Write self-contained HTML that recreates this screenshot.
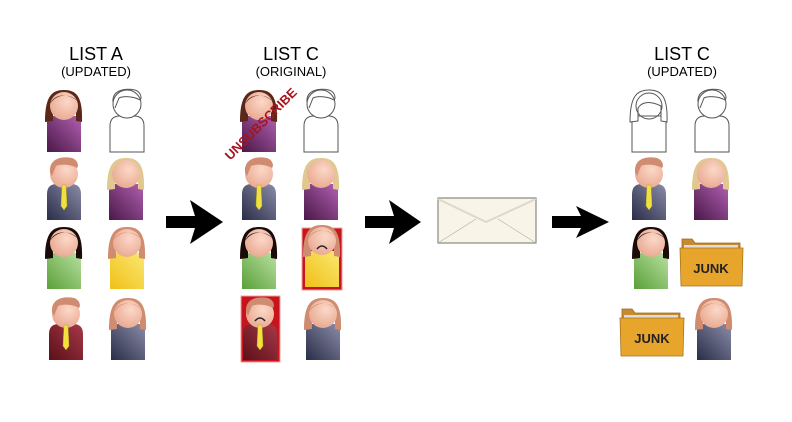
<!DOCTYPE html>
<html><head><meta charset="utf-8"><style>
html,body{margin:0;padding:0;background:#fff;}
svg{display:block;}
text{font-family:"Liberation Sans",sans-serif;}
</style></head><body>
<svg width="792" height="422" viewBox="0 0 792 422" xmlns="http://www.w3.org/2000/svg">
<defs>
<linearGradient id="gPur" x1="0" y1="1" x2="1" y2="0"><stop offset="0" stop-color="#4a1848"/><stop offset="1" stop-color="#b060b0"/></linearGradient>
<linearGradient id="gNav" x1="0" y1="1" x2="1" y2="0"><stop offset="0" stop-color="#2a2d48"/><stop offset="1" stop-color="#8a8ca8"/></linearGradient>
<linearGradient id="gGrn" x1="0" y1="1" x2="1" y2="0"><stop offset="0" stop-color="#5aa038"/><stop offset="1" stop-color="#b8e0a0"/></linearGradient>
<linearGradient id="gYel" x1="0" y1="1" x2="1" y2="0"><stop offset="0" stop-color="#f0c018"/><stop offset="1" stop-color="#fae870"/></linearGradient>
<linearGradient id="gMar" x1="0" y1="1" x2="1" y2="0"><stop offset="0" stop-color="#5a1018"/><stop offset="1" stop-color="#a83848"/></linearGradient>
<radialGradient id="gSkin" cx="0.6" cy="0.35" r="0.7"><stop offset="0" stop-color="#fcd8c8"/><stop offset="1" stop-color="#e8a890"/></radialGradient>

<symbol id="head" overflow="visible"><circle cx="0" cy="-46" r="14" fill="url(#gSkin)"/></symbol>
<symbol id="tie" overflow="visible"><path d="M-2,-35 L2,-35 L3,-14 L0,-10 L-3,-14 Z" fill="#f0e040" stroke="#b8a820" stroke-width="0.5"/></symbol>
<symbol id="mhair" overflow="visible"><path d="M-14,-48 C-15,-62 -2,-64 8,-62 C14,-60 15,-54 13,-52 C6,-56 -4,-56 -8,-54 L-12,-44 Z" fill="#d08c70"/></symbol>
</defs>

<text x="96" y="60" font-size="18" text-anchor="middle">LIST A</text>
<text x="96" y="76" font-size="13" text-anchor="middle">(UPDATED)</text>
<text x="291" y="60" font-size="18" text-anchor="middle">LIST C</text>
<text x="291" y="76" font-size="13" text-anchor="middle">(ORIGINAL)</text>
<text x="682" y="60" font-size="18" text-anchor="middle">LIST C</text>
<text x="682" y="76" font-size="13" text-anchor="middle">(UPDATED)</text>

<!-- ========== LIST A ========== -->
<g transform="translate(64,152)">
<rect x="-17" y="-36" width="34" height="36" fill="url(#gPur)"/>
<path d="M-19,-30 C-19,-56 -12,-62 0,-62 C12,-62 19,-56 18,-30 L12,-31 L12,-46 C4,-50 -6,-52 -11,-44 L-11,-31 Z" fill="#5a2818"/>
<use href="#head"/>
<path d="M-14,-48 C-10,-58 4,-60 14,-50 C8,-58 -6,-60 -14,-48Z" fill="#5a2818"/>
</g>
<g transform="translate(127,152)" fill="#fff" stroke="#555" stroke-width="1">
<path d="M-17,0 L-17,-26 Q-17,-36 -7,-36 L7,-36 Q17,-36 17,-26 L17,0 Z"/>
<circle cx="0" cy="-48" r="14"/>
<path d="M-14,-50 C-15,-62 -2,-64 8,-62 C14,-60 15,-54 13,-52 C6,-56 -4,-56 -8,-54 L-12,-44" fill="none"/>
</g>
<g transform="translate(64,220)">
<path d="M-17,0 L-17,-26 Q-17,-36 -7,-36 L7,-36 Q17,-36 17,-26 L17,0 Z" fill="url(#gNav)"/>
<use href="#head"/><use href="#mhair"/><use href="#tie"/>
</g>
<g transform="translate(126,220)">
<rect x="-17" y="-36" width="34" height="36" fill="url(#gPur)"/>
<path d="M-19,-30 C-19,-56 -12,-62 0,-62 C12,-62 19,-56 18,-30 L12,-31 L12,-46 C4,-50 -6,-52 -11,-44 L-11,-31 Z" fill="#e0c890"/>
<use href="#head"/>
<path d="M-14,-48 C-10,-58 4,-60 14,-50 C8,-58 -6,-60 -14,-48Z" fill="#e0c890"/>
</g>
<g transform="translate(64,289)">
<rect x="-17" y="-36" width="34" height="36" fill="url(#gGrn)"/>
<path d="M-19,-30 C-19,-56 -12,-62 0,-62 C12,-62 19,-56 18,-30 L12,-31 L12,-46 C4,-50 -6,-52 -11,-44 L-11,-31 Z" fill="#1a0a08"/>
<use href="#head"/>
<path d="M-14,-48 C-10,-58 4,-60 14,-50 C8,-58 -6,-60 -14,-48Z" fill="#1a0a08"/>
</g>
<g transform="translate(127,289)">
<rect x="-17" y="-36" width="34" height="36" fill="url(#gYel)"/>
<path d="M-19,-30 C-19,-56 -12,-62 0,-62 C12,-62 19,-56 18,-30 L12,-31 L12,-46 C4,-50 -6,-52 -11,-44 L-11,-31 Z" fill="#d08c70"/>
<use href="#head"/>
<path d="M-14,-48 C-10,-58 4,-60 14,-50 C8,-58 -6,-60 -14,-48Z" fill="#d08c70"/>
</g>
<g transform="translate(66,360)">
<path d="M-17,0 L-17,-26 Q-17,-36 -7,-36 L7,-36 Q17,-36 17,-26 L17,0 Z" fill="url(#gMar)"/>
<use href="#head"/><use href="#mhair"/><use href="#tie"/>
</g>
<g transform="translate(128,360)">
<rect x="-17" y="-36" width="34" height="36" fill="url(#gNav)"/>
<path d="M-19,-30 C-19,-56 -12,-62 0,-62 C12,-62 19,-56 18,-30 L12,-31 L12,-46 C4,-50 -6,-52 -11,-44 L-11,-31 Z" fill="#d08c70"/>
<use href="#head"/>
<path d="M-14,-48 C-10,-58 4,-60 14,-50 C8,-58 -6,-60 -14,-48Z" fill="#d08c70"/>
</g>

<!-- ========== LIST C ORIGINAL ========== -->
<g transform="translate(259,152)">
<rect x="-17" y="-36" width="34" height="36" fill="url(#gPur)"/>
<path d="M-19,-30 C-19,-56 -12,-62 0,-62 C12,-62 19,-56 18,-30 L12,-31 L12,-46 C4,-50 -6,-52 -11,-44 L-11,-31 Z" fill="#5a2818"/>
<use href="#head"/>
<path d="M-14,-48 C-10,-58 4,-60 14,-50 C8,-58 -6,-60 -14,-48Z" fill="#5a2818"/>
</g>
<text x="0" y="0" font-family="Liberation Serif,serif" font-weight="bold" font-size="13" fill="#a8141c" text-anchor="middle" transform="translate(264,127) rotate(-45)">UNSUBSCRIBE</text>
<g transform="translate(321,152)" fill="#fff" stroke="#555" stroke-width="1">
<path d="M-17,0 L-17,-26 Q-17,-36 -7,-36 L7,-36 Q17,-36 17,-26 L17,0 Z"/>
<circle cx="0" cy="-48" r="14"/>
<path d="M-14,-50 C-15,-62 -2,-64 8,-62 C14,-60 15,-54 13,-52 C6,-56 -4,-56 -8,-54 L-12,-44" fill="none"/>
</g>
<g transform="translate(259,220)">
<path d="M-17,0 L-17,-26 Q-17,-36 -7,-36 L7,-36 Q17,-36 17,-26 L17,0 Z" fill="url(#gNav)"/>
<use href="#head"/><use href="#mhair"/><use href="#tie"/>
</g>
<g transform="translate(321,220)">
<rect x="-17" y="-36" width="34" height="36" fill="url(#gPur)"/>
<path d="M-19,-30 C-19,-56 -12,-62 0,-62 C12,-62 19,-56 18,-30 L12,-31 L12,-46 C4,-50 -6,-52 -11,-44 L-11,-31 Z" fill="#e0c890"/>
<use href="#head"/>
<path d="M-14,-48 C-10,-58 4,-60 14,-50 C8,-58 -6,-60 -14,-48Z" fill="#e0c890"/>
</g>
<g transform="translate(259,289)">
<rect x="-17" y="-36" width="34" height="36" fill="url(#gGrn)"/>
<path d="M-19,-30 C-19,-56 -12,-62 0,-62 C12,-62 19,-56 18,-30 L12,-31 L12,-46 C4,-50 -6,-52 -11,-44 L-11,-31 Z" fill="#1a0a08"/>
<use href="#head"/>
<path d="M-14,-48 C-10,-58 4,-60 14,-50 C8,-58 -6,-60 -14,-48Z" fill="#1a0a08"/>
</g>
<rect x="302" y="228" width="40" height="62" fill="#c8141c" stroke="#f0a0a0" stroke-width="1"/>
<g transform="translate(322,287)">
<rect x="-17" y="-36" width="34" height="36" fill="url(#gYel)"/>
<path d="M-19,-30 C-19,-56 -12,-62 0,-62 C12,-62 19,-56 18,-30 L12,-31 L12,-46 C4,-50 -6,-52 -11,-44 L-11,-31 Z" fill="#d08c70"/>
<use href="#head"/>
<path d="M-14,-48 C-10,-58 4,-60 14,-50 C8,-58 -6,-60 -14,-48Z" fill="#d08c70"/>
<path d="M-5,-38 Q0,-44 5,-38" fill="none" stroke="#222" stroke-width="1.5"/>
</g>
<rect x="241" y="296" width="39" height="66" fill="#c8141c" stroke="#f0a0a0" stroke-width="1"/>
<g transform="translate(260,360)">
<path d="M-17,0 L-17,-26 Q-17,-36 -7,-36 L7,-36 Q17,-36 17,-26 L17,0 Z" fill="url(#gMar)"/>
<use href="#head"/><use href="#mhair"/><use href="#tie"/>
<path d="M-5,-39 Q0,-45 5,-39" fill="none" stroke="#222" stroke-width="1.5"/>
</g>
<g transform="translate(323,360)">
<rect x="-17" y="-36" width="34" height="36" fill="url(#gNav)"/>
<path d="M-19,-30 C-19,-56 -12,-62 0,-62 C12,-62 19,-56 18,-30 L12,-31 L12,-46 C4,-50 -6,-52 -11,-44 L-11,-31 Z" fill="#d08c70"/>
<use href="#head"/>
<path d="M-14,-48 C-10,-58 4,-60 14,-50 C8,-58 -6,-60 -14,-48Z" fill="#d08c70"/>
</g>

<!-- ========== LIST C UPDATED ========== -->
<g transform="translate(649,152)" fill="#fff" stroke="#555" stroke-width="1">
<rect x="-17" y="-36" width="34" height="36"/>
<path d="M-19,-30 C-19,-56 -12,-62 0,-62 C12,-62 19,-56 18,-30 L12,-31 L12,-46 C4,-50 -6,-52 -11,-44 L-11,-31 Z"/>
<circle cx="0" cy="-46" r="13" fill="none"/>
</g>
<g transform="translate(712,152)" fill="#fff" stroke="#555" stroke-width="1">
<path d="M-17,0 L-17,-26 Q-17,-36 -7,-36 L7,-36 Q17,-36 17,-26 L17,0 Z"/>
<circle cx="0" cy="-48" r="14"/>
<path d="M-14,-50 C-15,-62 -2,-64 8,-62 C14,-60 15,-54 13,-52 C6,-56 -4,-56 -8,-54 L-12,-44" fill="none"/>
</g>
<g transform="translate(649,220)">
<path d="M-17,0 L-17,-26 Q-17,-36 -7,-36 L7,-36 Q17,-36 17,-26 L17,0 Z" fill="url(#gNav)"/>
<use href="#head"/><use href="#mhair"/><use href="#tie"/>
</g>
<g transform="translate(711,220)">
<rect x="-17" y="-36" width="34" height="36" fill="url(#gPur)"/>
<path d="M-19,-30 C-19,-56 -12,-62 0,-62 C12,-62 19,-56 18,-30 L12,-31 L12,-46 C4,-50 -6,-52 -11,-44 L-11,-31 Z" fill="#e0c890"/>
<use href="#head"/>
<path d="M-14,-48 C-10,-58 4,-60 14,-50 C8,-58 -6,-60 -14,-48Z" fill="#e0c890"/>
</g>
<g transform="translate(651,289)">
<rect x="-17" y="-36" width="34" height="36" fill="url(#gGrn)"/>
<path d="M-19,-30 C-19,-56 -12,-62 0,-62 C12,-62 19,-56 18,-30 L12,-31 L12,-46 C4,-50 -6,-52 -11,-44 L-11,-31 Z" fill="#1a0a08"/>
<use href="#head"/>
<path d="M-14,-48 C-10,-58 4,-60 14,-50 C8,-58 -6,-60 -14,-48Z" fill="#1a0a08"/>
</g>
<g transform="translate(714,360)">
<rect x="-17" y="-36" width="34" height="36" fill="url(#gNav)"/>
<path d="M-19,-30 C-19,-56 -12,-62 0,-62 C12,-62 19,-56 18,-30 L12,-31 L12,-46 C4,-50 -6,-52 -11,-44 L-11,-31 Z" fill="#d08c70"/>
<use href="#head"/>
<path d="M-14,-48 C-10,-58 4,-60 14,-50 C8,-58 -6,-60 -14,-48Z" fill="#d08c70"/>
</g>
<g transform="translate(680,237)">
<path d="M2,2 L12,2 L15,6 L60,6 L60,40 L2,40 Z" fill="#c88a30" stroke="#9a6820" stroke-width="0.8"/>
<rect x="4" y="8" width="54" height="3" fill="#ddd"/>
<path d="M0,11 L63,11 L62,49 L1,49 Z" fill="#e8a52c" stroke="#a8741c" stroke-width="0.8"/>
<text x="31" y="36" font-size="13" font-weight="bold" text-anchor="middle" fill="#222" font-family="Liberation Sans Narrow,Liberation Sans,sans-serif">JUNK</text>
</g>
<g transform="translate(620,307)">
<path d="M2,2 L12,2 L15,6 L60,6 L60,40 L2,40 Z" fill="#c88a30" stroke="#9a6820" stroke-width="0.8"/>
<rect x="4" y="8" width="54" height="3" fill="#ddd"/>
<path d="M0,11 L64,11 L63,49 L1,49 Z" fill="#e8a52c" stroke="#a8741c" stroke-width="0.8"/>
<text x="32" y="36" font-size="13" font-weight="bold" text-anchor="middle" fill="#222" font-family="Liberation Sans Narrow,Liberation Sans,sans-serif">JUNK</text>
</g>

<rect x="438" y="198" width="98" height="45" fill="#f8f4e8" stroke="#8a8a80" stroke-width="1.2"/>
<path d="M438,199 L486,222 L536,199" fill="none" stroke="#ddd8c8" stroke-width="2"/>
<path d="M438,243 L476,219 M536,243 L498,219" stroke="#b0aca0" stroke-width="0.6"/>

<path d="M166,216 L195,216 L190,200 L223,222 L190,244 L195,228 L166,228 Z" fill="#000"/>
<path d="M365,216 L394,216 L389,200 L421,222 L389,244 L394,228 L365,228 Z" fill="#000"/>
<path d="M552,216 L581,216 L576,206 L609,222 L576,238 L581,228 L552,228 Z" fill="#000"/>
</svg>
</body></html>
